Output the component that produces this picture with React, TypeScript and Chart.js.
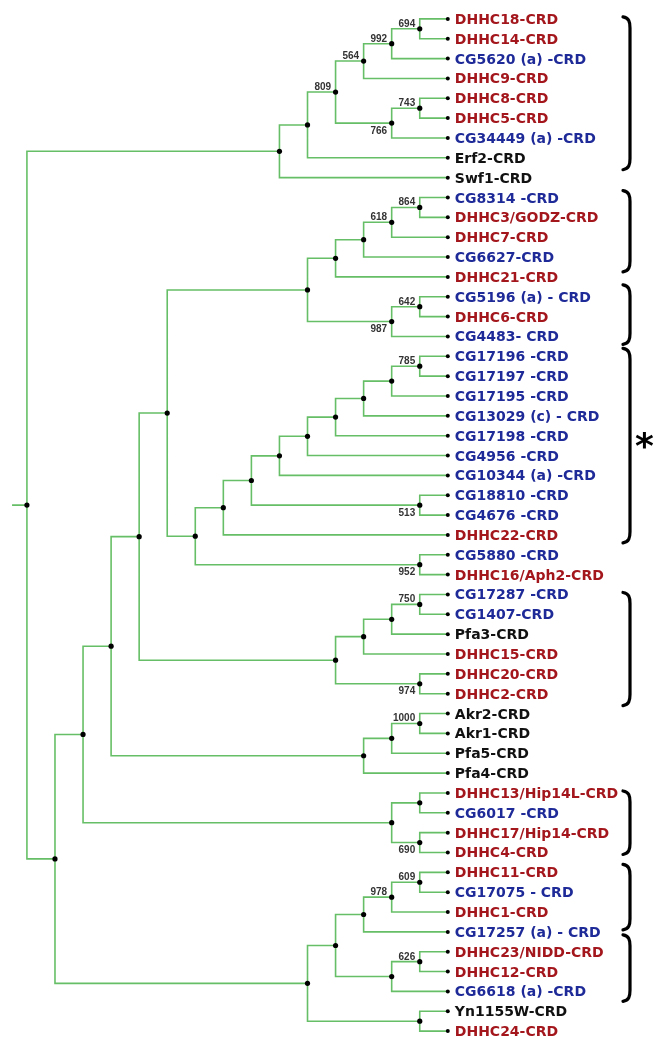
import React, { useEffect, useRef } from "react";
import { Chart, registerables } from "chart.js";

Chart.register(...registerables);

// ---------- data ----------
const leafNames: string[] = [
  "DHHC18-CRD", "DHHC14-CRD", "CG5620 (a) -CRD", "DHHC9-CRD", "DHHC8-CRD",
  "DHHC5-CRD", "CG34449 (a) -CRD", "Erf2-CRD", "Swf1-CRD", "CG8314 -CRD",
  "DHHC3/GODZ-CRD", "DHHC7-CRD", "CG6627-CRD", "DHHC21-CRD", "CG5196 (a) - CRD",
  "DHHC6-CRD", "CG4483- CRD", "CG17196 -CRD", "CG17197 -CRD", "CG17195 -CRD",
  "CG13029 (c) - CRD", "CG17198 -CRD", "CG4956 -CRD", "CG10344 (a) -CRD", "CG18810 -CRD",
  "CG4676 -CRD", "DHHC22-CRD", "CG5880 -CRD", "DHHC16/Aph2-CRD", "CG17287 -CRD",
  "CG1407-CRD", "Pfa3-CRD", "DHHC15-CRD", "DHHC20-CRD", "DHHC2-CRD",
  "Akr2-CRD", "Akr1-CRD", "Pfa5-CRD", "Pfa4-CRD", "DHHC13/Hip14L-CRD",
  "CG6017 -CRD", "DHHC17/Hip14-CRD", "DHHC4-CRD", "DHHC11-CRD", "CG17075 - CRD",
  "DHHC1-CRD", "CG17257 (a) - CRD", "DHHC23/NIDD-CRD", "DHHC12-CRD", "CG6618 (a) -CRD",
  "Yn1155W-CRD", "DHHC24-CRD",
];

// h = human, d = Drosophila, y = yeast
const leafSpecies: string[] = [
  "h", "h", "d", "h", "h", "h", "d", "y", "y", "d",
  "h", "h", "d", "h", "d", "h", "d", "d", "d", "d",
  "d", "d", "d", "d", "d", "d", "h", "d", "h", "d",
  "d", "y", "h", "h", "h", "y", "y", "y", "y", "h",
  "d", "h", "h", "h", "d", "h", "d", "h", "h", "d",
  "y", "h",
];

const leafLevel = 15;

// [node id, child A, child B, depth level from root]; numbers are leaf indices
const treeNodes: [string, string | number, string | number, number][] = [
  ["n1", 0, 1, 14], ["n2", "n1", 2, 13], ["n3", "n2", 3, 12],
  ["n4", 4, 5, 14], ["n5", "n4", 6, 13], ["n6", "n3", "n5", 11],
  ["n7", "n6", 7, 10], ["n8", "n7", 8, 9],
  ["n9", 9, 10, 14], ["n10", "n9", 11, 13], ["n11", "n10", 12, 12],
  ["n12", "n11", 13, 11], ["n13", 14, 15, 14], ["n14", "n13", 16, 13],
  ["n15", "n12", "n14", 10],
  ["n16", 17, 18, 14], ["n17", "n16", 19, 13], ["n18", "n17", 20, 12],
  ["n19", "n18", 21, 11], ["n20", "n19", 22, 10], ["n21", "n20", 23, 9],
  ["n22", 24, 25, 14], ["n23", "n21", "n22", 8], ["n24", "n23", 26, 7],
  ["n25", 27, 28, 14], ["n26", "n24", "n25", 6], ["n27", "n15", "n26", 5],
  ["n28", 29, 30, 14], ["n29", "n28", 31, 13], ["n30", "n29", 32, 12],
  ["n31", 33, 34, 14], ["n32", "n30", "n31", 11], ["n33", "n27", "n32", 4],
  ["n34", 35, 36, 14], ["n35", "n34", 37, 13], ["n36", "n35", 38, 12],
  ["n37", "n33", "n36", 3],
  ["n38", 39, 40, 14], ["n39", 41, 42, 14], ["n40", "n38", "n39", 13],
  ["n41", "n37", "n40", 2],
  ["n42", 43, 44, 14], ["n43", "n42", 45, 13], ["n44", "n43", 46, 12],
  ["n45", 47, 48, 14], ["n46", "n45", 49, 13], ["n47", "n44", "n46", 11],
  ["n48", 50, 51, 14], ["n49", "n47", "n48", 10], ["n50", "n41", "n49", 1],
  ["root", "n8", "n50", 0],
];

const rootStubLength = 0.53;

const bootstrapValues: [string, number][] = [
  ["n1", 694], ["n2", 992], ["n3", 564], ["n4", 743], ["n5", 766], ["n6", 809],
  ["n9", 864], ["n10", 618], ["n13", 642], ["n14", 987],
  ["n16", 785], ["n22", 513], ["n25", 952], ["n28", 750], ["n31", 974],
  ["n34", 1000], ["n39", 690], ["n42", 609], ["n43", 978], ["n45", 626],
];
const bootstrapBelow: string[] = ["n5", "n14", "n22", "n25", "n31", "n39"];

// clade brackets, in leaf-index units [top, bottom]
const cladeBrackets: [number, number][] = [
  [-0.1, 7.6], [8.65, 12.75], [13.4, 16.4], [16.6, 26.4],
  [28.9, 34.6], [38.9, 42.1], [42.6, 45.9], [46.15, 49.5],
];
const cladeMarks: string[] = ["", "", "", "*", "", "", "", ""];

// ---------- derived layout ----------
const speciesColor: Record<string, string> = {
  h: "#a3161c",
  d: "#1e2a98",
  y: "#111111",
};

type P = { x: number; y: number };

function buildTree() {
  const pos: Record<string, P> = {};
  const childPos = (c: string | number): P =>
    typeof c === "number" ? { x: leafLevel, y: c } : pos[c];
  const branches: (P | { x: null; y: null })[] = [];
  for (const [id, a, b, lv] of treeNodes) {
    const pa = childPos(a);
    const pb = childPos(b);
    const p = { x: lv, y: (pa.y + pb.y) / 2 };
    pos[id] = p;
    branches.push(
      { x: pa.x, y: pa.y },
      { x: lv, y: pa.y },
      { x: lv, y: pb.y },
      { x: pb.x, y: pb.y },
      { x: null, y: null }
    );
  }
  const r = pos["root"];
  branches.push({ x: r.x - rootStubLength, y: r.y }, { x: r.x, y: r.y });
  return { pos, branches };
}

export default function App() {
  const ref = useRef<HTMLCanvasElement | null>(null);

  useEffect(() => {
    const canvas = ref.current;
    if (!canvas) return;
    const { pos, branches } = buildTree();
    const nodeDots = treeNodes.map(([id]) => ({ x: pos[id].x, y: pos[id].y }));
    const leafDots = leafNames.map((_, i) => ({ x: leafLevel, y: i }));

    const labelPlugin = {
      id: "treeLabels",
      afterDatasetsDraw(chart: any) {
        const ctx: CanvasRenderingContext2D = chart.ctx;
        const xs = chart.scales.x;
        const ys = chart.scales.y;
        ctx.save();
        // leaf labels
        ctx.font = "bold 14px 'DejaVu Sans'";
        ctx.textAlign = "left";
        ctx.textBaseline = "alphabetic";
        const lx = xs.getPixelForValue(leafLevel) + 7;
        leafNames.forEach((name, i) => {
          ctx.fillStyle = speciesColor[leafSpecies[i]];
          ctx.fillText(name, lx, ys.getPixelForValue(i) + 5);
        });
        // bootstrap values
        ctx.font = "bold 10px 'Liberation Sans', Arial";
        ctx.fillStyle = "#333333";
        ctx.textAlign = "right";
        for (const [id, v] of bootstrapValues) {
          const p = pos[id];
          const x = xs.getPixelForValue(p.x) - 4.5;
          const y = ys.getPixelForValue(p.y);
          const below = bootstrapBelow.includes(id);
          ctx.fillText(String(v), x, below ? y + 10.5 : y - 2);
        }
        // brackets
        const vx = chart.chartArea.right - 32;
        const hx = vx - 7;
        ctx.strokeStyle = "#000000";
        ctx.lineWidth = 3.2;
        ctx.lineCap = "round";
        cladeBrackets.forEach(([t, b], k) => {
          const top = ys.getPixelForValue(t);
          const bot = ys.getPixelForValue(b);
          ctx.beginPath();
          ctx.moveTo(hx, top);
          ctx.bezierCurveTo(vx - 1, top + 1, vx, top + 5, vx, top + 11);
          ctx.lineTo(vx, bot - 11);
          ctx.bezierCurveTo(vx, bot - 5, vx - 1, bot - 1, hx, bot);
          ctx.stroke();
          if (cladeMarks[k]) {
            ctx.font = "bold 36px 'DejaVu Sans'";
            ctx.fillStyle = "#000000";
            ctx.textAlign = "center";
            ctx.textBaseline = "alphabetic";
            ctx.fillText(cladeMarks[k], vx + 14.5, (top + bot) / 2 + 12);
          }
        });
        ctx.restore();
      },
    };

    const chart = new Chart(canvas, {
      type: "scatter",
      data: {
        datasets: [
          {
            data: nodeDots,
            pointRadius: 2.6,
            pointBackgroundColor: "#000000",
            pointBorderWidth: 0,
            showLine: false,
          },
          {
            data: leafDots,
            pointRadius: 2,
            pointBackgroundColor: "#000000",
            pointBorderWidth: 0,
            showLine: false,
          },
          {
            data: branches as any,
            showLine: true,
            spanGaps: false,
            pointRadius: 0,
            borderColor: "#66bf66",
            borderWidth: 1.6,
            tension: 0,
          },
        ],
      },
      options: {
        animation: false,
        responsive: false,
        devicePixelRatio: 1,
        events: [],
        layout: { padding: 0 },
        plugins: {
          legend: { display: false },
          tooltip: { enabled: false },
        },
        scales: {
          x: { type: "linear", display: false, min: -0.817, max: 22.634 },
          y: { type: "linear", display: false, min: -0.75, max: 51.75, reverse: true },
        },
      },
      plugins: [labelPlugin],
    });
    return () => chart.destroy();
  }, []);

  return (
    <div
      style={{
        position: "fixed",
        left: 0,
        top: 0,
        width: 666,
        height: 1050,
        background: "#ffffff",
      }}
    >
      <canvas ref={ref} width={666} height={1050} style={{ display: "block" }} />
    </div>
  );
}
